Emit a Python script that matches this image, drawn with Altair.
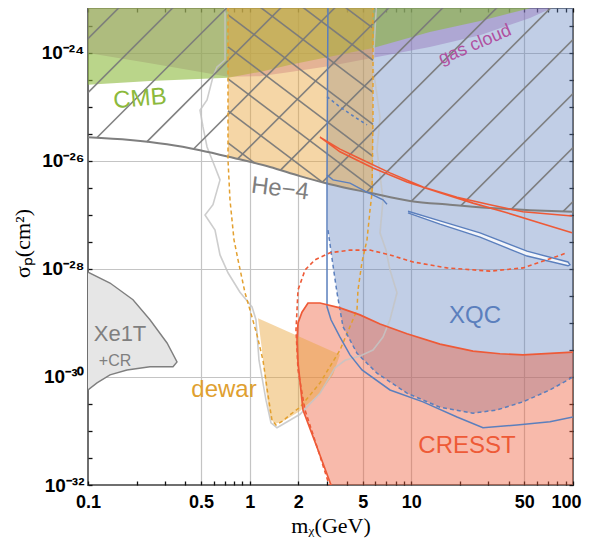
import altair as alt
import pandas as pd
import numpy as np

# ---------------- data: mass m_X in GeV, log10 of sigma_p in cm^2 ----------------
TOP = -22.9  # above the plot top (clipped)

he4_m = [0.1, 0.182, 0.308, 0.493, 0.789, 1.336, 2.048, 3.14, 5.55, 9.81, 17.3, 30.7, 54.2, 100]
he4_ls = [-25.56, -25.61, -25.69, -25.80, -25.94, -26.11, -26.28, -26.43, -26.59, -26.74, -26.81, -26.87, -26.91, -26.94]

cmb_m = [0.1, 0.242, 0.735, 1.158, 1.78, 5.79, 13.0, 26.6, 54.2, 100]
cmb_ls = [-24.59, -24.52, -24.46, -24.35, -24.22, -23.91, -23.61, -23.41, -23.17, -22.98]

gas_m = [0.1, 0.242, 0.735, 1.158, 1.78, 3.14, 5.79, 13.0, 26.6, 54.2, 89.2, 100]
gas_ls = [-24.0, -24.19, -24.44, -24.43, -24.35, -24.24, -24.09, -23.89, -23.67, -23.35, -23.06, -22.98]

orange_m = [0.7345, 1.336, 2.048, 3.14, 5.79]
orange_ls = [-25.93, -26.11, -26.28, -26.43, -26.61]

dewar_dash_m = [0.7345, 0.7345, 0.7556, 0.800, 0.847, 0.936, 1.005, 1.110, 1.209, 1.298, 1.374, 1.455,
                1.608, 1.776, 2.048, 2.723, 3.621, 4.612, 4.677, 4.953, 5.318, 5.551, 5.711, 5.79, 5.79]
dewar_dash_ls = [TOP, -25.98, -26.72, -27.46, -27.83, -28.44, -28.76, -29.22, -29.69, -30.33, -30.80, -30.89,
                 -30.81, -30.70, -30.56, -30.11, -29.50, -28.76, -28.39, -27.87, -27.46, -26.91, -26.59, -25.24, TOP]

dewar_m = [1.126, 3.621, 3.276, 2.723, 2.048, 1.654, 1.434, 1.336, 1.262, 1.192]
dewar_ls = [-28.91, -29.59, -29.96, -30.30, -30.63, -30.80, -30.87, -30.76, -30.24, -29.50]

xqc_m = [3.009, 3.009, 3.052, 3.276, 3.469, 3.779, 4.612, 6.133, 9.401, 15.04, 24.06, 33.87, 49.06, 72.06, 100, 100]
xqc_ls = [TOP, -26.35, -27.28, -27.93, -28.44, -29.07, -29.56, -29.93, -30.30, -30.56, -30.67, -30.61, -30.46, -30.24, -30.0, TOP]

xqc_solid_m = [3.052, 3.009, 3.009, 3.185, 3.621, 4.174, 4.953, 7.379, 11.81, 19.16, 27.75, 45.03, 72.06, 100]
xqc_solid_ls = [TOP, -26.26, -28.70, -28.94, -29.26, -29.59, -29.87, -30.24, -30.46, -30.74, -30.94, -30.89, -30.83, -30.74]

xqc_notch_m = [3.009, 3.276, 4.174, 5.168, 6.681, 7.072]
xqc_notch_ls = [-26.26, -26.35, -26.41, -26.56, -26.72, -26.80]

xqc_bits_m = [3.009, 3.621, 4.482, 5.318]
xqc_bits_ls = [-24.81, -25.0, -25.19, -25.33]

island_m = [9.535, 15.04, 26.6, 51.94, 93.1, 95.8, 93.1, 51.94, 26.6, 15.04, 9.535]
island_ls = [-26.93, -27.11, -27.33, -27.67, -27.87, -27.92, -27.94, -27.76, -27.41, -27.17, -26.96]

redloop_m = [98.6, 49.06, 30.66, 19.16, 11.81, 7.379, 4.612, 3.621, 2.723, 3.621, 5.79, 9.401, 15.04, 24.06, 39.05, 62.5, 98.6]
redloop_ls = [-27.02, -26.94, -26.81, -26.67, -26.48, -26.22, -25.93, -25.78, -25.56, -25.83, -26.13, -26.39, -26.59, -26.78, -26.96, -27.15, -27.33]

cresst_m = [3.23, 2.609, 2.138, 1.991, 1.963, 1.991, 2.107, 2.295, 2.723, 3.621, 4.814, 6.401, 9.401, 15.04, 24.06, 35.35, 49.06, 100]
cresst_ls = [-32.05, -31.30, -30.61, -29.74, -29.31, -29.0, -28.80, -28.63, -28.63, -28.72, -28.85, -29.02, -29.20, -29.39, -29.52, -29.57, -29.59, -29.54]

cresst_dash_m = [3.14, 2.647, 2.199, 1.991, 1.935, 1.991, 2.199, 2.536, 3.14, 4.174, 5.551, 7.379, 10.24, 16.62, 30.66, 49.06, 69.05, 91.8]
cresst_dash_ls = [-32.05, -31.35, -30.61, -29.87, -29.13, -28.39, -28.02, -27.83, -27.70, -27.65, -27.65, -27.74, -27.87, -27.98, -28.04, -27.98, -27.83, -27.70]

gray_m = [0.704, 0.704, 0.628, 0.593, 0.545, 0.493, 0.5144, 0.545, 0.6105, 0.6555, 0.593, 0.5295, 0.6105, 0.6555,
          0.7345, 0.871, 1.034, 1.094, 1.142, 1.262, 1.355, 1.476, 2.048, 2.723, 3.371, 3.889, 4.814, 5.793,
          6.681, 7.379, 8.153, 7.379, 6.971, 6.401, 6.681, 6.133, 6.401, 5.793, 6.133]
gray_ls = [TOP, -24.13, -24.26, -24.44, -24.87, -25.06, -25.37, -25.74, -26.11, -26.35, -26.81, -27.0, -27.28, -27.74,
           -28.07, -28.43, -28.70, -28.94, -29.69, -30.43, -30.85, -30.94, -30.69, -30.30, -29.83, -29.69, -29.61, -29.50,
           -29.26, -28.94, -28.44, -28.02, -27.65, -27.33, -26.72, -25.80, -25.19, -24.26, TOP]

xe_m = [0.1, 0.1368, 0.1898, 0.2417, 0.3083, 0.3553, 0.3356, 0.2417, 0.1742, 0.1368, 0.1137, 0.1]
xe_ls = [-28.06, -28.26, -28.57, -28.94, -29.37, -29.72, -29.81, -29.81, -29.87, -29.96, -30.11, -30.24]

x_ticks = [float(f"{d}e{e}") for e in (-1, 0, 1) for d in range(1, 10)] + [100.0]
x_labeled = [0.1, 0.5, 1, 2, 5, 10, 50, 100]
x_grid = [0.5, 1, 2, 5, 10, 50]
y_exps_labeled = [-32, -30, -28, -26, -24]
y_exps_grid = [-30, -28, -26, -24]

# ---------------- helpers ----------------
C_GREEN = "#8cb93c"
C_PURPLE = "#b46ab8"
C_ORANGE = "#e8a33a"
C_BLUE = "#5b7fbd"
C_RED = "#ee5a37"
C_GRAY = "#7f7f7f"

xs = alt.Scale(type="log", domain=[0.1, 100], nice=False)
ys = alt.Scale(type="log", domain=[1e-32, 10 ** -23.167], nice=False)


def pts(m, ls):
    return pd.DataFrame({"m": m, "s": [10.0 ** v for v in ls], "i": list(range(len(m)))})


def path(m, ls, xaxis=None, yaxis=None, **mk):
    return alt.Chart(pts(m, ls)).mark_line(clip=True, **mk).encode(
        x=alt.X("m:Q", scale=xs, axis=xaxis),
        y=alt.Y("s:Q", scale=ys, axis=yaxis),
        order=alt.Order("i:Q"),
    )


def fillpoly(m, ls, color, op, xaxis=None, yaxis=None):
    return path(m, ls, xaxis=xaxis, yaxis=yaxis, fill=color, fillOpacity=op, stroke=color, strokeOpacity=0)


SUP = {"-": "\u207b", "0": "\u2070", "1": "\u00b9", "2": "\u00b2", "3": "\u00b3", "4": "\u2074",
       "5": "\u2075", "6": "\u2076", "7": "\u2077", "8": "\u2078", "9": "\u2079"}

y_ticks = []
for n in range(-32, -23):
    y_ticks.append(float(f"1e{n}"))
    y_ticks.append(10 ** (n + 0.5))

ylab = "''"
for n in reversed(y_exps_labeled):
    ylab = f"datum.value == 1e{n} ? '10{''.join(SUP[c] for c in str(n))}' : " + ylab
xlab = "indexof([" + ",".join(str(v) for v in x_labeled) + "], datum.value) >= 0 ? toString(datum.value) : ''"
xgrid_test = "indexof([" + ",".join(str(v) for v in x_grid) + "], datum.value) >= 0"
ygrid_test = "indexof([" + ",".join(f"1e{n}" for n in y_exps_grid) + "], datum.value) >= 0"
last_test = f"datum.value == {x_labeled[-1]}"

common_tick = dict(offset=-4, tickSize=4, tickWidth=1.3, tickColor="#111", domain=False)
ax_bottom = alt.Axis(orient="bottom", values=x_ticks, labelExpr=xlab, grid=True, gridColor="#c4c4c4", gridWidth=1.2,
                     gridOpacity={"condition": {"test": xgrid_test, "value": 1}, "value": 0},
                     labelFont="Liberation Sans", labelFontSize=18, labelFontWeight="bold", labelColor="#000",
                     labelPadding=8, labelFlush=False, labelOverlap=False,
                     labelAlign={"condition": {"test": last_test, "value": "right"}, "value": "center"},
                     labelOffset={"condition": {"test": last_test, "value": 8}, "value": 0},
                     title="m\u1d6a(GeV)", titleFont="Liberation Serif", titleFontSize=22, titleFontWeight="normal",
                     titleColor="#000", titleX=242.5, titleY=51, titleAlign="center", titleBaseline="alphabetic",
                     **common_tick)
ax_left = alt.Axis(orient="left", values=y_ticks, labelExpr=ylab, grid=True, gridColor="#c4c4c4", gridWidth=1.2,
                   gridOpacity={"condition": {"test": ygrid_test, "value": 1}, "value": 0},
                   labelFont="Liberation Sans", labelFontSize=19, labelFontWeight="bold", labelColor="#000",
                   labelPadding=4, labelFlush=False, labelOverlap=False,
                   title="\u03c3\u209a(cm\u00b2)", titleFont="Liberation Serif", titleFontSize=22, titleFontWeight="normal",
                   titleColor="#000", titleX=-70, titleY=235, titleAngle=270, titleAlign="center", titleBaseline="middle",
                   **common_tick)
ax_top = alt.Axis(orient="top", values=x_ticks, labels=False, grid=False, title="", **common_tick)
ax_right = alt.Axis(orient="right", values=y_ticks, labels=False, grid=False, title="", **common_tick)

# ---------------- hatching (texture above the He-4 curve) ----------------
he4_lm = np.log10(he4_m)
he4_arr = np.array(he4_ls)


def he4_at(lm):
    return float(np.interp(lm, he4_lm, he4_arr))


def cross(b, s):
    lo, hi = -3.0, 4.0
    f = lambda x: b + s * x - he4_at(x)
    flo = f(lo)
    for _ in range(60):
        mid = 0.5 * (lo + hi)
        fm = f(mid)
        if (fm > 0) == (flo > 0):
            lo, flo = mid, fm
        else:
            hi = mid
    return 0.5 * (lo + hi)


S_UP, STEP_UP, B_UP = 2.994, 1.0, -30.74
S_DN, STEP_DN, B_DN = -2.26, 0.593, -24.19
rows = []
for k in range(-14, 16):
    b = B_UP + k * STEP_UP
    xr = cross(b, S_UP)
    xt = (TOP - b) / S_UP
    if xt > xr:
        rows.append((10 ** xr, 10 ** (b + S_UP * xr), 10 ** xt, 10 ** TOP))
lx0, lx1 = np.log10(0.7345), np.log10(5.79)
for k in range(-12, 20):
    b = B_DN + k * STEP_DN
    xa = max(lx0, (TOP - b) / S_DN)
    xb = min(lx1, cross(b, S_DN))
    if xa < xb:
        rows.append((10 ** xa, 10 ** (b + S_DN * xa), 10 ** xb, 10 ** (b + S_DN * xb)))
hatch_df = pd.DataFrame(rows, columns=["m1", "s1", "m2", "s2"])
hatch = alt.Chart(hatch_df).mark_rule(clip=True, stroke="#7a7a7a", strokeWidth=1.6, strokeOpacity=0.95).encode(
    x=alt.X("m1:Q", scale=xs, axis=None), y=alt.Y("s1:Q", scale=ys, axis=None), x2="m2:Q", y2="s2:Q")

# ---------------- layers ----------------
layers = [
    fillpoly(gas_m + [100, 0.1], gas_ls + [TOP, TOP], C_PURPLE, 0.42, xaxis=ax_bottom, yaxis=ax_left),
    fillpoly(xqc_m, xqc_ls, C_BLUE, 0.38),
    fillpoly(cmb_m + [100, 0.1], cmb_ls + [TOP, TOP], C_GREEN, 0.6),
    fillpoly(orange_m + [5.79, 0.7345], orange_ls + [TOP, TOP], C_ORANGE, 0.45),
    fillpoly(cresst_m + [100], cresst_ls + [-32.05], C_RED, 0.42),
    fillpoly(dewar_m, dewar_ls, C_ORANGE, 0.45),
    path(xe_m, xe_ls, fill="#e6e6e6", fillOpacity=1, stroke=C_GRAY, strokeWidth=1.4),
    path(gray_m, gray_ls, stroke="#c4c4c4", strokeWidth=1.6, strokeOpacity=0.85),
    hatch,
    path(he4_m, he4_ls, xaxis=ax_top, yaxis=ax_right, stroke=C_GRAY, strokeWidth=2, interpolate="monotone"),
    path(dewar_dash_m, dewar_dash_ls, stroke="#e3a02f", strokeWidth=1.5, strokeDash=[4, 3]),
    path(xqc_solid_m, xqc_solid_ls, stroke=C_BLUE, strokeWidth=1.5),
    path(xqc_m[2:-1], xqc_ls[2:-1], stroke=C_BLUE, strokeWidth=1.5, strokeDash=[4, 3]),
    path(xqc_notch_m, xqc_notch_ls, stroke=C_BLUE, strokeWidth=1.4),
    path(xqc_bits_m, xqc_bits_ls, stroke=C_BLUE, strokeWidth=1.6, strokeDash=[3, 3]),
    path(island_m, island_ls, fill="#ffffff", fillOpacity=0.8, stroke=C_BLUE, strokeWidth=1.4),
    path(redloop_m, redloop_ls, stroke=C_RED, strokeWidth=1.6),
    path(cresst_m, cresst_ls, stroke=C_RED, strokeWidth=1.7),
    path(cresst_dash_m, cresst_dash_ls, stroke=C_RED, strokeWidth=1.6, strokeDash=[4, 3]),
]

labels = [
    ("CMB", 0.2098, -24.85, C_GREEN, 24, 355),
    ("He\u22124", 1.541, -26.52, C_GRAY, 24, 7),
    ("gas cloud", 24.76, -23.85, "#b0509f", 18, 337),
    ("XQC", 24.76, -28.87, C_BLUE, 24, 0),
    ("CRESST", 22.1, -31.28, C_RED, 24, 0),
    ("dewar", 0.694, -30.24, "#e0a030", 24, 0),
    ("Xe1T", 0.1578, -29.20, C_GRAY, 22, 0),
    ("+CR", 0.1469, -29.70, C_GRAY, 16, 0),
]
for txt, m, ls, col, fs, ang in labels:
    layers.append(
        alt.Chart(pd.DataFrame({"m": [m], "s": [10.0 ** ls]})).mark_text(
            text=txt, font="Liberation Sans", fontSize=fs, color=col, angle=ang, align="center", baseline="middle"
        ).encode(x=alt.X("m:Q", scale=xs, axis=None), y=alt.Y("s:Q", scale=ys, axis=None))
    )

chart = alt.layer(*layers).properties(
    width=485, height=477, autosize="none",
    padding={"left": 80, "top": 0, "right": 9, "bottom": 53},
).configure_view(stroke="#6f6f6f", strokeWidth=2)

chart.save("out.html", embed_options={"renderer": "svg", "actions": False})
